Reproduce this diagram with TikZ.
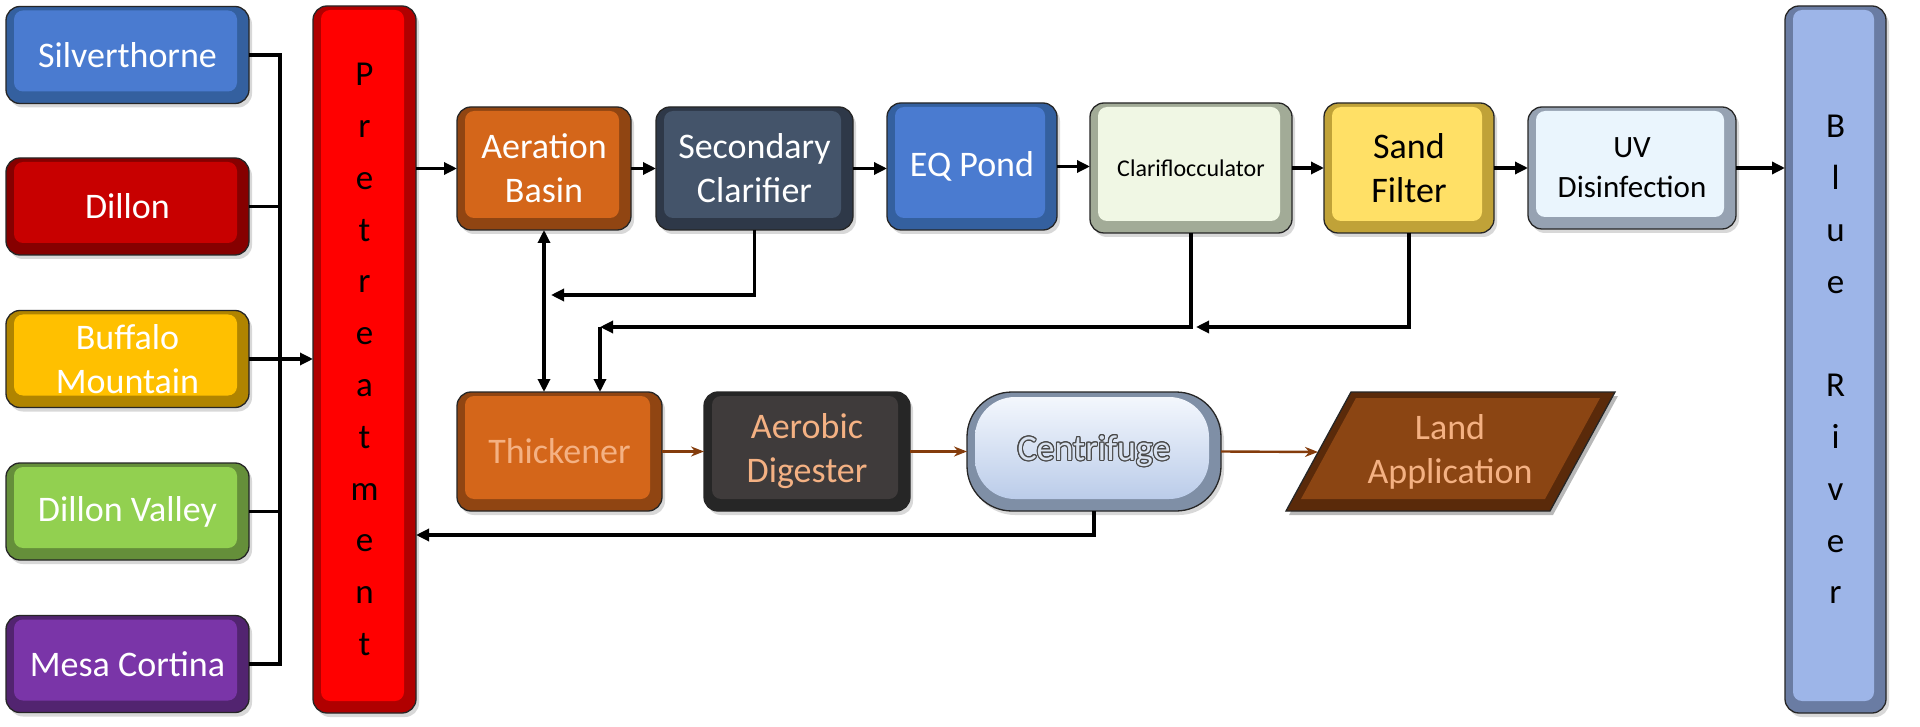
\documentclass[tikz,border=0pt]{standalone}
\usepackage{fontspec}
\setmainfont{Carlito}
\usepackage{contour}
\contourlength{1.1pt}
\usetikzlibrary{arrows.meta,shapes.misc,shadows}
\definecolor{silvF}{HTML}{4A7BD0}\definecolor{silvE}{HTML}{34609F}
\definecolor{dilF}{HTML}{C80000}\definecolor{dilE}{HTML}{860000}
\definecolor{bufF}{HTML}{FFC000}\definecolor{bufE}{HTML}{B08400}
\definecolor{dvF}{HTML}{92D050}\definecolor{dvE}{HTML}{658F3A}
\definecolor{mcF}{HTML}{7A35A8}\definecolor{mcE}{HTML}{522470}
\definecolor{preF}{HTML}{FF0000}\definecolor{preE}{HTML}{B00000}
\definecolor{aerF}{HTML}{D4661A}\definecolor{aerE}{HTML}{904512}
\definecolor{secF}{HTML}{44546A}\definecolor{secE}{HTML}{2E3848}
\definecolor{claF}{HTML}{F0F7E4}\definecolor{claE}{HTML}{A2AB97}
\definecolor{sanF}{HTML}{FFE066}\definecolor{sanE}{HTML}{C0A238}
\definecolor{uvF}{HTML}{EAF5FD}\definecolor{uvE}{HTML}{96A2B2}
\definecolor{brF}{HTML}{9DB5E8}\definecolor{brE}{HTML}{6A7CA3}
\definecolor{digF}{HTML}{3F3B3B}\definecolor{digE}{HTML}{262626}
\definecolor{lanF}{HTML}{8B4513}\definecolor{lanE}{HTML}{5A2A0A}
\definecolor{cenTop}{HTML}{F6F9FE}\definecolor{cenBot}{HTML}{B4C7E7}\definecolor{cenE}{HTML}{7F8FA6}
\definecolor{peach}{HTML}{F4B183}
\definecolor{brownLn}{HTML}{843C0C}
\definecolor{cenTxt}{HTML}{D9E2F0}\definecolor{cenOut}{HTML}{4A4A4A}
\newcommand\fbig{\fontsize{36}{44}\selectfont}
\newcommand\fmid{\fontsize{31}{40}\selectfont}
\newcommand\fsmall{\fontsize{24}{30}\selectfont}
\newcommand\fstack{\fontsize{35}{51.8}\selectfont}
\tikzset{
  bev/.style 2 args={draw=black!85, line width=1.3pt, rounded corners=14pt, fill=#2,
    inner sep=0pt, outer sep=0pt, align=center,
    drop shadow={opacity=0.3, shadow xshift=3pt, shadow yshift=-4pt},
    path picture={\fill[#1, rounded corners=9pt]
      ([xshift=8pt,yshift=-4pt]path picture bounding box.north west) rectangle
      ([xshift=-12pt,yshift=12pt]path picture bounding box.south east);}},
  cenbox/.style={draw=black!85, line width=1.3pt, rounded corners=45pt, fill=cenE,
    inner sep=0pt, outer sep=0pt, align=center,
    drop shadow={opacity=0.3, shadow xshift=3pt, shadow yshift=-4pt},
    path picture={\shade[top color=cenTop, bottom color=cenBot, rounded corners=40pt]
      ([xshift=8pt,yshift=-5pt]path picture bounding box.north west) rectangle
      ([xshift=-12pt,yshift=12pt]path picture bounding box.south east);}},
  src/.style={minimum width=243pt, minimum height=97pt, text=white, font=\fbig},
  conn/.style={line width=3.2pt, black},
  arr/.style={line width=3.2pt, black, -{Triangle[length=13pt,width=12pt]}},
  darr/.style={line width=3.2pt, black, {Triangle[length=13pt,width=12pt]}-{Triangle[length=13pt,width=12pt]}},
  brarr/.style={line width=2.4pt, brownLn, -{Stealth[length=13pt,width=10pt]}},
}
\begin{document}
\begin{tikzpicture}[x=1pt,y=-1pt]
\useasboundingbox (0,0) rectangle (1920,727);
\fill[white] (0,0) rectangle (1920,727);

% sources
\node[bev={silvF}{silvE}, src] (silv) at (127.5,55) {Silverthorne};
\node[bev={dilF}{dilE}, src] (dil) at (127.5,206.5) {Dillon};
\node[bev={bufF}{bufE}, src] (buf) at (127.5,359) {Buffalo\\Mountain};
\node[bev={dvF}{dvE}, src] (dv) at (127.5,511.5) {Dillon Valley};
\node[bev={mcF}{mcE}, src] (mc) at (127.5,664) {Mesa Cortina};

% tall boxes
\node[bev={preF}{preE}, minimum width=103pt, minimum height=707pt, font=\fstack, text=black]
  (pre) at (364.5,359.5) {P\\r\\e\\t\\r\\e\\a\\t\\m\\e\\n\\t};
\node[bev={brF}{brE}, minimum width=101pt, minimum height=707pt, font=\fstack, text=black]
  (br) at (1835.5,359.5) {B\\l\\u\\e\\[51.8pt]R\\i\\v\\e\\r};

% top row
\node[bev={aerF}{aerE}, minimum width=174pt, minimum height=123pt, font=\fbig, text=white]
  (aer) at (544,168.5) {Aeration\\Basin};
\node[bev={secF}{secE}, minimum width=197pt, minimum height=123pt, font=\fbig, text=white]
  (sec) at (754.5,168.5) {Secondary\\Clarifier};
\node[bev={silvF}{silvE}, minimum width=170pt, minimum height=127pt, font=\fbig, text=white]
  (eq) at (972,166.5) {EQ Pond};
\node[bev={claF}{claE}, minimum width=202pt, minimum height=130pt, font=\fsmall, text=black]
  (clar) at (1191,168) {Clariflocculator};
\node[bev={sanF}{sanE}, minimum width=170pt, minimum height=130pt, font=\fbig, text=black]
  (sand) at (1409,168) {Sand\\Filter};
\node[bev={uvF}{uvE}, minimum width=208pt, minimum height=122pt, font=\fmid, text=black]
  (uv) at (1632,168) {UV\\Disinfection};

% bottom row
\node[bev={aerF}{aerE}, minimum width=205pt, minimum height=119pt, font=\fbig, text=peach]
  (thk) at (559.5,451.5) {Thickener};
\node[bev={digF}{digE}, minimum width=206pt, minimum height=119pt, font=\fbig, text=peach]
  (dig) at (807,451.5) {Aerobic\\Digester};
\node[cenbox, minimum width=254pt, minimum height=119pt, font=\fbig, text=cenTxt]
  (cen) at (1094,451.5) {\contour{cenOut}{Centrifuge}};

% land application parallelogram
\fill[black, opacity=0.28] (1354,396) -- (1618,396) -- (1553,515) -- (1289,515) -- cycle;
\filldraw[fill=lanE, draw=black!85, line width=1.3pt]
  (1351,392) -- (1615,392) -- (1550,511) -- (1286,511) -- cycle;
\fill[lanF] (1356,398) -- (1600,398) -- (1545,499) -- (1301,499) -- cycle;
\node[font=\fbig, text=peach, align=center] (land) at (1450,452) {Land\\Application};
\coordinate (landL) at (1318,452);

% source bus
\coordinate (busT) at (280,55);
\draw[conn] (silv.east) -- (silv.east -| busT);
\draw[conn] (dil.east) -- (dil.east -| busT);
\draw[conn] (dv.east) -- (dv.east -| busT);
\draw[conn] (mc.east) -- (mc.east -| busT);
\draw[conn] ([yshift=1.6pt]silv.east -| busT) -- ([yshift=-1.6pt]mc.east -| busT);
\draw[arr] (buf.east) -- (buf.east -| pre.west);

% main line
\draw[arr] (pre.east |- aer.west) -- (aer.west);
\draw[arr] (aer.east) -- (sec.west |- aer.east);
\draw[arr] (sec.east) -- (eq.west |- sec.east);
\draw[arr] (eq.east) -- (clar.west |- eq.east);
\draw[arr] (clar.east) -- (sand.west);
\draw[arr] (sand.east) -- (uv.west |- sand.east);
\draw[arr, line width=3.8pt] (uv.east) -- (br.west |- uv.east);

% recycle lines
\coordinate (fb1) at (551,295);
\draw[arr] (sec.south) |- (fb1);
\draw[darr] (aer.south) -- (aer.south |- thk.north);
\coordinate (fb2) at (600,327);
\draw[arr] (clar.south) |- (fb2);
\draw[arr] (fb2) -- (fb2 |- thk.north);
\draw[arr] (sand.south) |- ([xshift=5pt]clar.south |- fb2);
\coordinate (fb3) at (0,535);
\draw[arr] (cen.south) |- (pre.east |- fb3);

% sludge line
\draw[brarr] (thk.east) -- (dig.west);
\draw[brarr] (dig.east) -- (cen.west);
\draw[brarr] (cen.east) -- (landL);
\end{tikzpicture}
\end{document}
